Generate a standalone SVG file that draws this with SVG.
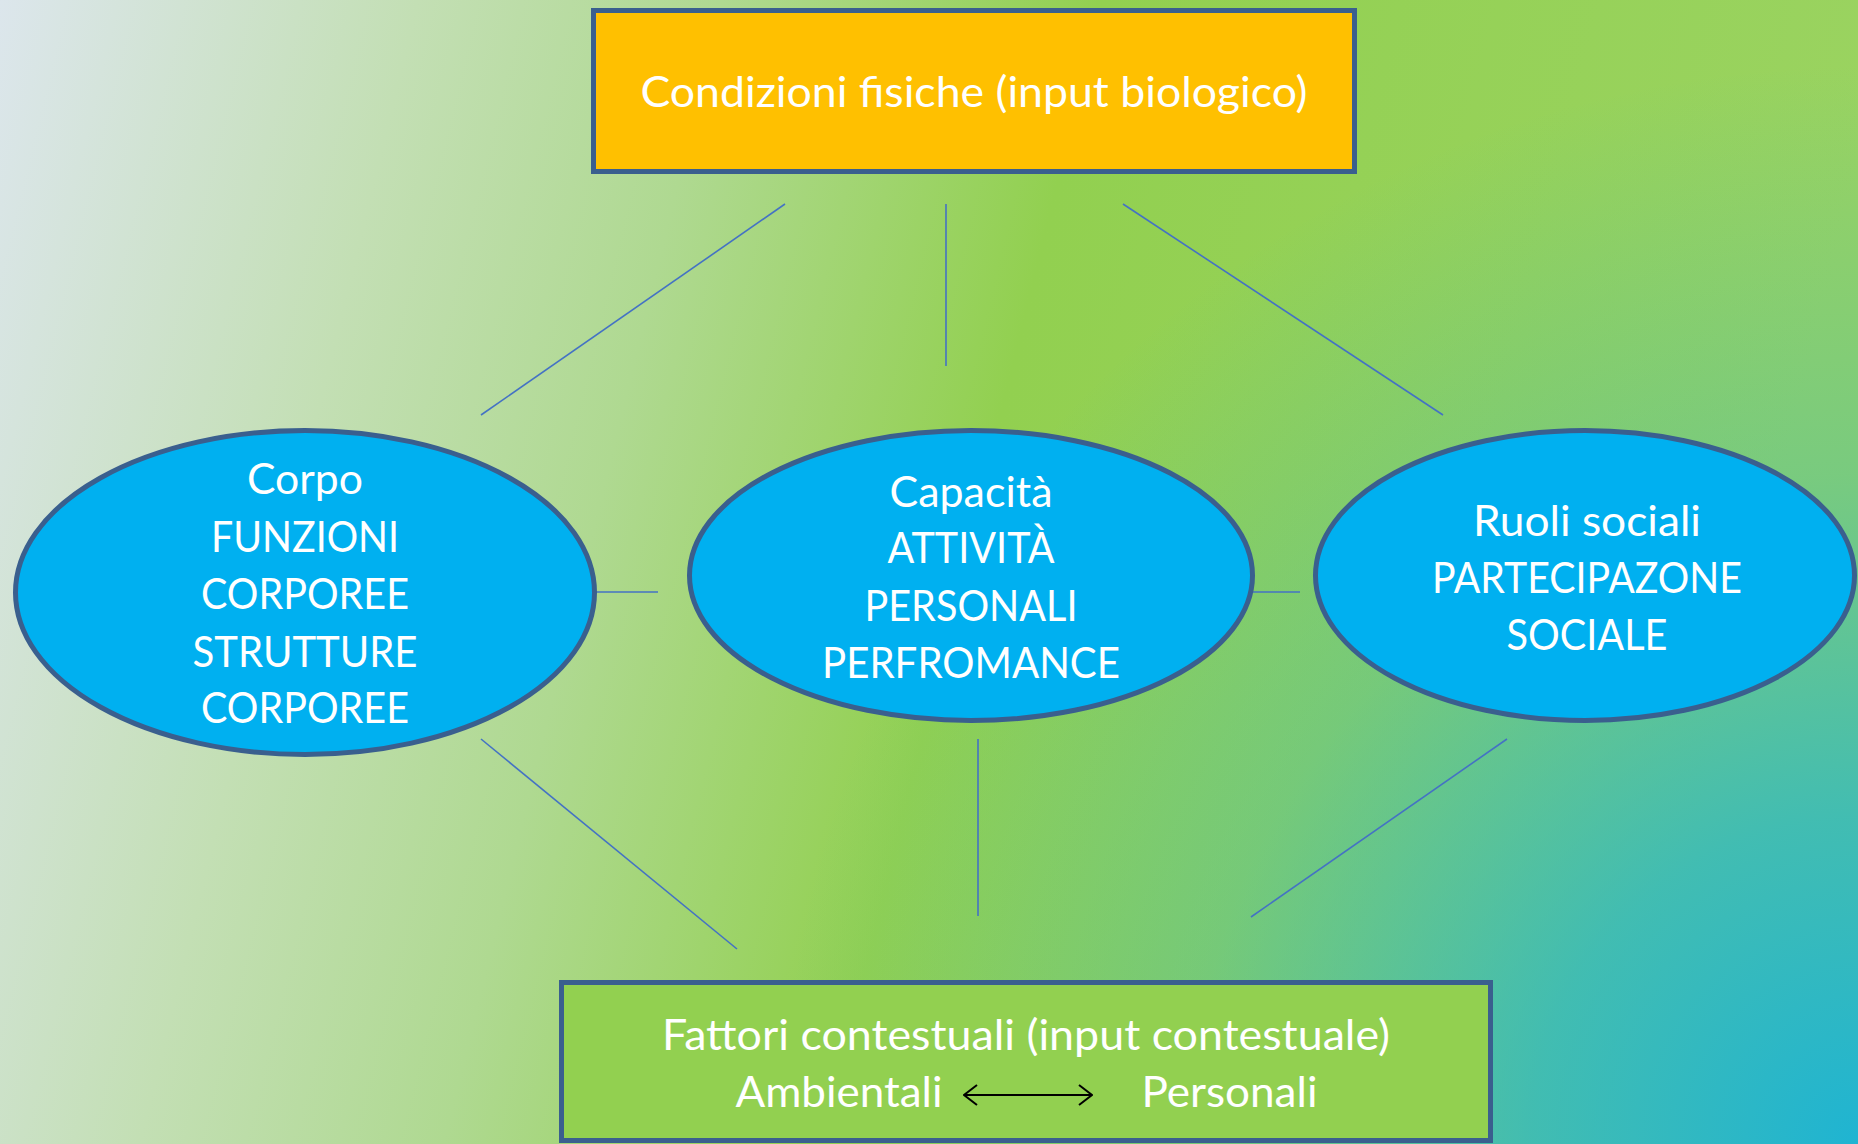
<svg xmlns="http://www.w3.org/2000/svg" width="1858" height="1144" viewBox="0 0 1858 1144">
  <defs>
    <!-- slide background: pale on the left, green in the middle -->
    <linearGradient id="bgBase" x1="0" y1="0" x2="1" y2="0.15">
      <stop offset="0" stop-color="#DCE6EC"/>
      <stop offset="0.22" stop-color="#C3DFB4"/>
      <stop offset="0.38" stop-color="#AFD991"/>
      <stop offset="0.58" stop-color="#92D050"/>
      <stop offset="1" stop-color="#9AD360"/>
    </linearGradient>
    <!-- teal wash rising from the lower-right corner -->
    <radialGradient id="bgTeal" gradientUnits="userSpaceOnUse" cx="1858" cy="1144" r="1080">
      <stop offset="0" stop-color="#1FB4D2" stop-opacity="1"/>
      <stop offset="0.3" stop-color="#1FB4D2" stop-opacity="0.72"/>
      <stop offset="0.62" stop-color="#1FB4D2" stop-opacity="0.27"/>
      <stop offset="1" stop-color="#1FB4D2" stop-opacity="0"/>
    </radialGradient>
    <!-- open chevron head, pointing along the line direction -->
    <marker id="chevron" viewBox="-15 -11 16 22" refX="0" refY="0" markerWidth="16" markerHeight="22" markerUnits="userSpaceOnUse" orient="auto-start-reverse">
      <path d="M-13,-10 L0,0 L-13,10" fill="none" stroke="#000" stroke-width="2"/>
    </marker>
  </defs>
  <style>
    .box { stroke: #3A5F8E; stroke-width: 5; }
    .oval { fill: #00B0F0; stroke: #3A5F8E; stroke-width: 5; }
    .link { stroke: #4472C4; stroke-width: 1.6; fill: none; }
    .lbl { font-family: Lato, "Open Sans", "Liberation Sans", sans-serif; font-size: 42px; fill: #FFFFFF; text-anchor: middle; }
  </style>

  <rect x="0" y="0" width="1858" height="1144" fill="url(#bgBase)"/>
  <rect x="0" y="0" width="1858" height="1144" fill="url(#bgTeal)"/>

  <g id="connectors">
    <line class="link" x1="785" y1="204" x2="481" y2="415"/>
    <line class="link" x1="946" y1="204" x2="946" y2="366"/>
    <line class="link" x1="1123" y1="204" x2="1443" y2="415"/>
    <line class="link" x1="596" y1="592" x2="658" y2="592"/>
    <line class="link" x1="1253" y1="592" x2="1300" y2="592"/>
    <line class="link" x1="481" y1="739" x2="737" y2="949"/>
    <line class="link" x1="978" y1="739" x2="978" y2="916"/>
    <line class="link" x1="1507" y1="739" x2="1251" y2="917"/>
  </g>

  <g id="condizioni-fisiche">
    <rect class="box" x="593.5" y="10.5" width="761" height="161" fill="#FFC000"/>
    <text class="lbl" x="974" y="107" textLength="667" lengthAdjust="spacingAndGlyphs">Condizioni fisiche (input biologico)</text>
  </g>

  <g id="corpo">
    <ellipse class="oval" cx="305" cy="592.5" rx="289.5" ry="162"/>
    <text class="lbl" x="305" y="494" textLength="116" lengthAdjust="spacingAndGlyphs">Corpo</text>
    <text class="lbl" x="305" y="552" textLength="188" lengthAdjust="spacingAndGlyphs">FUNZIONI</text>
    <text class="lbl" x="305" y="609" textLength="208" lengthAdjust="spacingAndGlyphs">CORPOREE</text>
    <text class="lbl" x="305" y="667" textLength="225" lengthAdjust="spacingAndGlyphs">STRUTTURE</text>
    <text class="lbl" x="305" y="723" textLength="208" lengthAdjust="spacingAndGlyphs">CORPOREE</text>
  </g>

  <g id="capacita">
    <ellipse class="oval" cx="971" cy="575.5" rx="281.5" ry="145"/>
    <text class="lbl" x="971" y="507" textLength="163" lengthAdjust="spacingAndGlyphs">Capacità</text>
    <text class="lbl" x="971" y="563" textLength="167" lengthAdjust="spacingAndGlyphs">ATTIVITÀ</text>
    <text class="lbl" x="971" y="621" textLength="213" lengthAdjust="spacingAndGlyphs">PERSONALI</text>
    <text class="lbl" x="971" y="678" textLength="298" lengthAdjust="spacingAndGlyphs">PERFROMANCE</text>
  </g>

  <g id="ruoli-sociali">
    <ellipse class="oval" cx="1585" cy="575.5" rx="269.5" ry="145"/>
    <text class="lbl" x="1587" y="536" textLength="228" lengthAdjust="spacingAndGlyphs">Ruoli sociali</text>
    <text class="lbl" x="1587" y="593" textLength="310" lengthAdjust="spacingAndGlyphs">PARTECIPAZONE</text>
    <text class="lbl" x="1587" y="650" textLength="161" lengthAdjust="spacingAndGlyphs">SOCIALE</text>
  </g>

  <g id="fattori-contestuali">
    <rect class="box" x="561.5" y="982.5" width="929" height="158" fill="#92D050"/>
    <text class="lbl" x="1026" y="1050" textLength="728" lengthAdjust="spacingAndGlyphs">Fattori contestuali (input contestuale)</text>
    <text class="lbl" x="839" y="1107" textLength="207" lengthAdjust="spacingAndGlyphs">Ambientali</text>
    <text class="lbl" x="1229.5" y="1107" textLength="176" lengthAdjust="spacingAndGlyphs">Personali</text>
    <line x1="964" y1="1095" x2="1092" y2="1095" stroke="#000" stroke-width="2" marker-start="url(#chevron)" marker-end="url(#chevron)"/>
  </g>
</svg>
